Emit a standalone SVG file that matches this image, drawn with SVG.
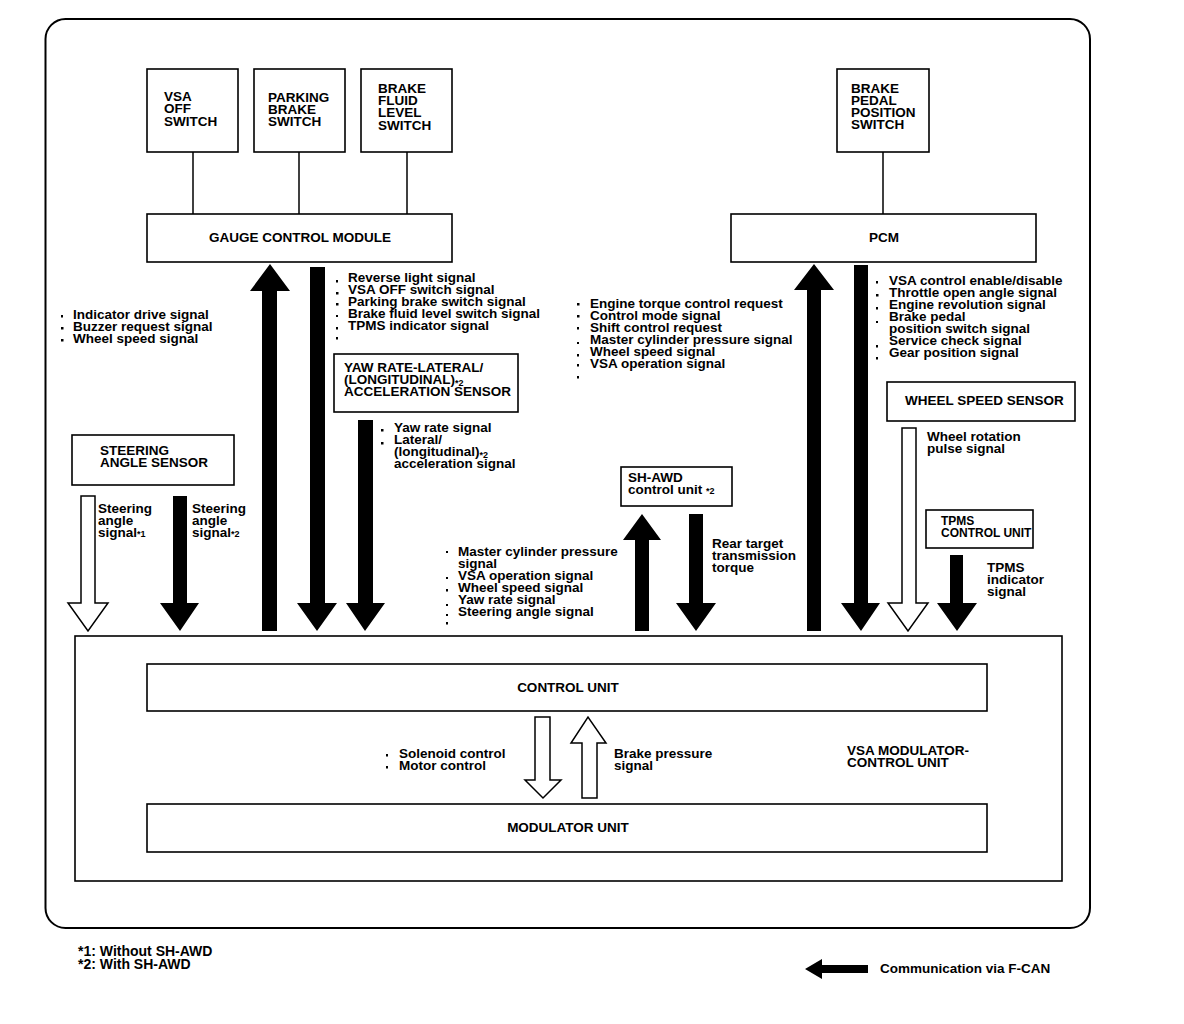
<svg xmlns="http://www.w3.org/2000/svg" width="1184" height="1024" viewBox="0 0 1184 1024">
<style>
.t{font-family:"Liberation Sans",Arial,Helvetica,sans-serif;font-weight:bold;font-size:13.5px;fill:#000}
.m{text-anchor:middle}
.s{font-size:9px}
.box{fill:#fff;stroke:#000;stroke-width:1.6}
.frame{fill:none;stroke:#000;stroke-width:1.6}
.ln{stroke:#000;stroke-width:1.5;fill:none}
.ar{fill:#000;stroke:none}
.ho{fill:#fff;stroke:#000;stroke-width:1.5;stroke-linejoin:miter}
.b{fill:#000}
</style>
<rect x="0" y="0" width="1184" height="1024" fill="#fff"/>
<rect id="frame" x="45.5" y="19" width="1044.5" height="909" rx="20" ry="20" fill="none" stroke="#000" stroke-width="2"/>

<g id="vsa_off_switch"><rect class="box" x="147" y="69" width="91" height="83"/>
<text class="t" x="164" y="101">VSA</text><text class="t" x="164" y="113">OFF</text><text class="t" x="164" y="126">SWITCH</text></g>
<g id="parking_brake_switch"><rect class="box" x="254" y="69" width="91" height="83"/>
<text class="t" x="268" y="102">PARKING</text><text class="t" x="268" y="114">BRAKE</text><text class="t" x="268" y="126">SWITCH</text></g>
<g id="brake_fluid_level_switch"><rect class="box" x="361" y="69" width="91" height="83"/>
<text class="t" x="378" y="93">BRAKE</text><text class="t" x="378" y="105">FLUID</text><text class="t" x="378" y="117">LEVEL</text><text class="t" x="378" y="130">SWITCH</text></g>
<g id="gauge_control_module"><rect class="box" x="147" y="214" width="305" height="48"/>
<text class="t m" x="300" y="242">GAUGE CONTROL MODULE</text></g>
<g id="brake_pedal_position_switch"><rect class="box" x="837" y="69" width="92" height="83"/>
<text class="t" x="851" y="93">BRAKE</text><text class="t" x="851" y="105">PEDAL</text><text class="t" x="851" y="117">POSITION</text><text class="t" x="851" y="129">SWITCH</text></g>
<g id="pcm"><rect class="box" x="731" y="214" width="305" height="48"/>
<text class="t m" x="884" y="242">PCM</text></g>

<g id="yaw_rate_sensor"><rect class="box" x="334" y="354" width="184" height="58"/>
<text class="t" x="344" y="372">YAW RATE-LATERAL/</text>
<text class="t" x="344" y="384">(LONGITUDINAL)<tspan class="s" dy="2">*2</tspan></text>
<text class="t" x="344" y="396">ACCELERATION SENSOR</text></g>
<g id="steering_angle_sensor"><rect class="box" x="72" y="435" width="162" height="50"/>
<text class="t" x="100" y="455">STEERING</text><text class="t" x="100" y="467">ANGLE SENSOR</text></g>
<g id="sh_awd_control_unit"><rect class="box" x="621" y="467" width="111" height="39"/>
<text class="t" x="628" y="482">SH-AWD</text><text class="t" x="628" y="494">control unit <tspan class="s">*2</tspan></text></g>
<g id="wheel_speed_sensor"><rect class="box" x="887" y="382" width="188" height="39"/>
<text class="t" x="905" y="405">WHEEL SPEED SENSOR</text></g>
<g id="tpms_control_unit"><rect class="box" x="926" y="510" width="107" height="38"/>
<text class="t" x="941" y="525" style="font-size:12px">TPMS</text><text class="t" x="941" y="537" style="font-size:12px">CONTROL UNIT</text></g>

<g id="vsa_modulator_control_unit"><rect class="frame" x="75" y="636" width="987" height="245"/>
<text class="t" x="847" y="755">VSA MODULATOR-</text><text class="t" x="847" y="767">CONTROL UNIT</text></g>
<g id="control_unit"><rect class="box" x="147" y="664" width="840" height="47"/>
<text class="t m" x="568" y="692">CONTROL UNIT</text></g>
<g id="modulator_unit"><rect class="box" x="147" y="804" width="840" height="48"/>
<text class="t m" x="568" y="832">MODULATOR UNIT</text></g>

<g id="connectors">
  <line class="ln" x1="193" y1="152" x2="193" y2="214"/>
  <line class="ln" x1="299" y1="152" x2="299" y2="214"/>
  <line class="ln" x1="407" y1="152" x2="407" y2="214"/>
  <line class="ln" x1="883" y1="152" x2="883" y2="214"/>
  <polygon class="ar" points="262,631 262,291 250,291 270,264 290,291 277,291 277,631"/>
  <polygon class="ar" points="310,267 325,267 325,603 337,603 317,631 297,603 310,603"/>
  <polygon class="ar" points="358,420 373,420 373,603 385,603 365,631 346,603 358,603"/>
  <polygon class="ho" points="81,496 95,496 95,603 108,603 88,631 68,603 81,603"/>
  <polygon class="ar" points="173,496 187,496 187,603 199,603 180,631 160,603 173,603"/>
  <polygon class="ar" points="635,631 635,540 623,540 642,514 661,540 649,540 649,631"/>
  <polygon class="ar" points="689,514 703,514 703,603 716,603 696,631 676,603 689,603"/>
  <polygon class="ar" points="807,631 807,290 794,290 814,264 834,290 821,290 821,631"/>
  <polygon class="ar" points="854,265 868,265 868,603 880,603 861,631 841,603 854,603"/>
  <polygon class="ho" points="902,428 916,428 916,603 928,603 908,631 888,603 902,603"/>
  <polygon class="ar" points="950,555 963,555 963,603 977,603 957,631 937,603 950,603"/>
  <polygon class="ho" points="535,717 550,717 550,780 561,780 543,798 525,780 535,780"/>
  <polygon class="ho" points="582,798 582,743 571,743 588,717 606,743 597,743 597,798"/>
</g>

<g id="labels">
  <g class="b">
    <rect x="61" y="315" width="2" height="2.5"/><rect x="61" y="327" width="2.5" height="2.5"/><rect x="61" y="339" width="2.5" height="2.5"/>
    <rect x="336" y="280" width="2" height="2.5"/><rect x="336" y="292" width="2.5" height="2.5"/><rect x="336" y="303" width="2.5" height="2.5"/><rect x="336" y="315" width="2" height="2"/><rect x="336" y="327" width="2" height="2.5"/><rect x="336" y="337" width="2" height="2.5"/>
    <rect x="381" y="429" width="2.5" height="2.5"/><rect x="381" y="442" width="2.5" height="2.5"/>
    <rect x="577" y="303" width="2.5" height="2.5"/><rect x="577" y="315" width="2.5" height="2.5"/><rect x="577" y="327" width="2" height="2.5"/><rect x="577" y="342" width="2" height="2"/><rect x="577" y="354" width="2" height="2.5"/><rect x="577" y="364" width="2" height="2.5"/><rect x="577" y="376" width="2" height="2.5"/>
    <rect x="876" y="281" width="2" height="2.5"/><rect x="876" y="294" width="2.5" height="2.5"/><rect x="876" y="307" width="2" height="2.5"/><rect x="876" y="321" width="2" height="2"/><rect x="876" y="345" width="2" height="2.5"/><rect x="876" y="357" width="2" height="2.5"/>
    <rect x="446" y="551" width="2" height="2"/><rect x="446" y="577" width="2" height="2"/><rect x="446" y="589" width="2" height="2.5"/><rect x="446" y="604" width="2" height="2"/><rect x="446" y="614" width="2" height="2"/><rect x="446" y="622" width="2" height="2.5"/>
    <rect x="386" y="754" width="2" height="2.5"/><rect x="386" y="766" width="2" height="2.5"/>
  </g>
  <text class="t" x="73" y="319">Indicator drive signal</text>
  <text class="t" x="73" y="331">Buzzer request signal</text>
  <text class="t" x="73" y="343">Wheel speed signal</text>

  <text class="t" x="348" y="282">Reverse light signal</text>
  <text class="t" x="348" y="294">VSA OFF switch signal</text>
  <text class="t" x="348" y="306">Parking brake switch signal</text>
  <text class="t" x="348" y="318">Brake fluid level switch signal</text>
  <text class="t" x="348" y="330">TPMS indicator signal</text>

  <text class="t" x="394" y="432">Yaw rate signal</text>
  <text class="t" x="394" y="444">Lateral/</text>
  <text class="t" x="394" y="456">(longitudinal)<tspan class="s" dy="2">*2</tspan></text>
  <text class="t" x="394" y="468">acceleration signal</text>

  <text class="t" x="98" y="513">Steering</text>
  <text class="t" x="98" y="525">angle</text>
  <text class="t" x="98" y="537">signal<tspan class="s">*1</tspan></text>
  <text class="t" x="192" y="513">Steering</text>
  <text class="t" x="192" y="525">angle</text>
  <text class="t" x="192" y="537">signal<tspan class="s">*2</tspan></text>

  <text class="t" x="590" y="308">Engine torque control request</text>
  <text class="t" x="590" y="320">Control mode signal</text>
  <text class="t" x="590" y="332">Shift control request</text>
  <text class="t" x="590" y="344">Master cylinder pressure signal</text>
  <text class="t" x="590" y="356">Wheel speed signal</text>
  <text class="t" x="590" y="368">VSA operation signal</text>

  <text class="t" x="889" y="285">VSA control enable/disable</text>
  <text class="t" x="889" y="297">Throttle open angle signal</text>
  <text class="t" x="889" y="309">Engine revolution signal</text>
  <text class="t" x="889" y="321">Brake pedal</text>
  <text class="t" x="889" y="333">position switch signal</text>
  <text class="t" x="889" y="345">Service check signal</text>
  <text class="t" x="889" y="357">Gear position signal</text>

  <text class="t" x="927" y="441">Wheel rotation</text>
  <text class="t" x="927" y="453">pulse signal</text>

  <text class="t" x="458" y="556">Master cylinder pressure</text>
  <text class="t" x="458" y="568">signal</text>
  <text class="t" x="458" y="580">VSA operation signal</text>
  <text class="t" x="458" y="592">Wheel speed signal</text>
  <text class="t" x="458" y="604">Yaw rate signal</text>
  <text class="t" x="458" y="616">Steering angle signal</text>

  <text class="t" x="712" y="548">Rear target</text>
  <text class="t" x="712" y="560">transmission</text>
  <text class="t" x="712" y="572">torque</text>

  <text class="t" x="987" y="572">TPMS</text>
  <text class="t" x="987" y="584">indicator</text>
  <text class="t" x="987" y="596">signal</text>

  <text class="t" x="399" y="758">Solenoid control</text>
  <text class="t" x="399" y="770">Motor control</text>
  <text class="t" x="614" y="758">Brake pressure</text>
  <text class="t" x="614" y="770">signal</text>
</g>

<g id="legend">
  <text class="t" x="78" y="956" style="font-size:14px">*1: Without SH-AWD</text>
  <text class="t" x="78" y="969" style="font-size:14px">*2: With SH-AWD</text>
  <polygon class="ar" points="805,969 822,959 822,965 868,965 868,973 822,973 822,979"/>
  <text class="t" x="880" y="973">Communication via F-CAN</text>
</g>
</svg>
